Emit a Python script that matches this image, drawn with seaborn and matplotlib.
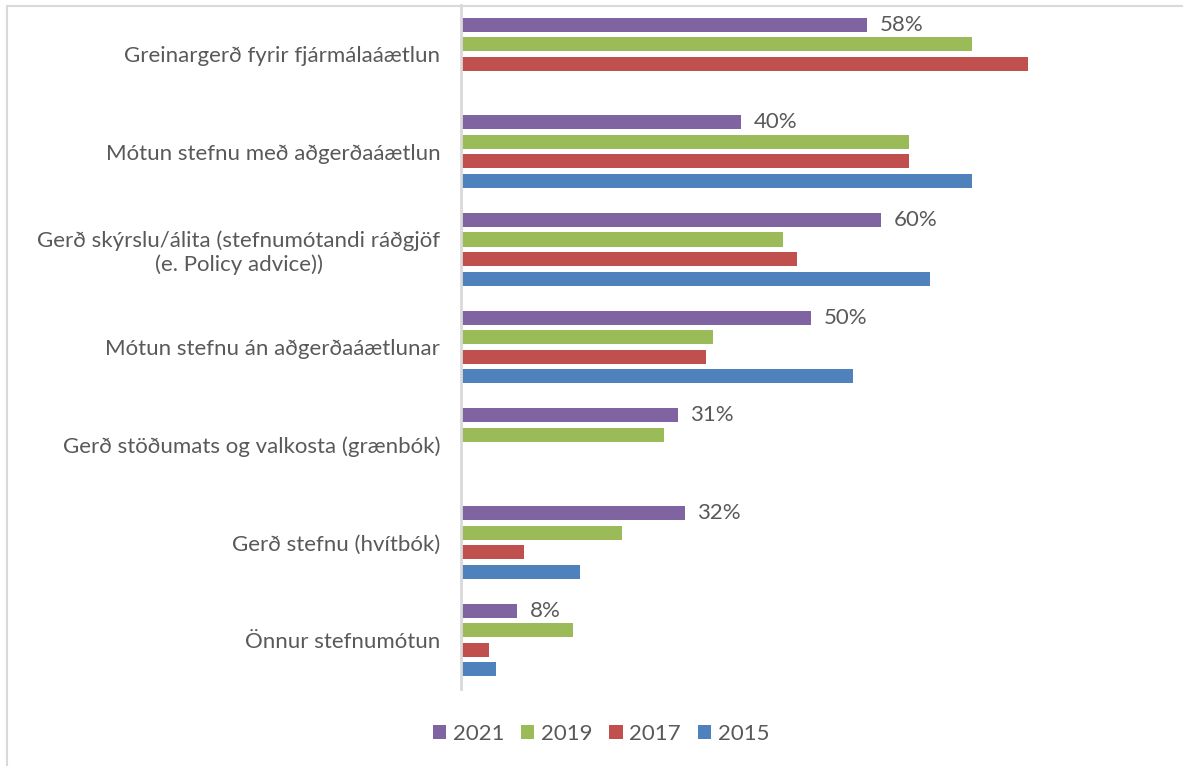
import pandas as pd
import numpy as np
import matplotlib.pyplot as plt
import seaborn as sns
from matplotlib.lines import Line2D
from matplotlib.patches import Patch

# ── data ─────────────────────────────────────────────
categories = [
    'Greinargerð fyrir fjármálaáætlun',
    'Mótun stefnu með aðgerðaáætlun',
    'Gerð skýrslu/álita (stefnumótandi ráðgjöf\n(e. Policy advice))',
    'Mótun stefnu án aðgerðaáætlunar',
    'Gerð stöðumats og valkosta (grænbók)',
    'Gerð stefnu (hvítbók)',
    'Önnur stefnumótun',
]
years = ['2021', '2019', '2017', '2015']
v2021 = [58, 40, 60, 50, 31, 32, 8]
v2019 = [73, 64, 46, 36, 29, 23, 16]
v2017 = [81, 64, 48, 35, np.nan, 9, 4]
v2015 = [np.nan, 73, 67, 56, np.nan, 17, 5]
colors = ['#8064A2', '#9BBB59', '#C0504D', '#4F81BD']

df = pd.DataFrame({'flokkur': categories, '2021': v2021, '2019': v2019,
                   '2017': v2017, '2015': v2015})
long = df.melt(id_vars='flokkur', var_name='ar', value_name='hlutfall')

# ── plot ─────────────────────────────────────────────
sns.set_style('white')
plt.rcParams['font.family'] = ['Lato', 'DejaVu Sans']
txt = '#595959'
fs = 16

fig = plt.figure(figsize=(11.83, 7.66), dpi=100)
ax = fig.add_axes([461 / 1183, 1 - 689 / 766, 630 / 1183, 684 / 766])

sns.barplot(data=long, y='flokkur', x='hlutfall', hue='ar',
            hue_order=years, palette=colors, order=categories,
            orient='h', width=0.8, gap=0.28, ax=ax, legend=False,
            saturation=1, linewidth=0)

ax.set_xlim(0, 90)
ax.set_xlabel('')
ax.set_ylabel('')
ax.set_xticks([])
for s in ['top', 'right', 'bottom']:
    ax.spines[s].set_visible(False)
ax.spines['left'].set_color('#d9d9d9')
ax.spines['left'].set_linewidth(2)
ax.tick_params(axis='y', length=0, pad=15, labelsize=fs, labelcolor=txt)
for lab in ax.get_yticklabels():
    lab.set_multialignment('center')

# labels only for 2021
cont = ax.containers[0]
ax.bar_label(cont, labels=[f'{v:.0f}%' for v in v2021], padding=9,
             fontsize=fs, color=txt)

# legend
handles = [Patch(facecolor=c, edgecolor='none') for c in colors]
fig.legend(handles, years, loc='center', bbox_to_anchor=(0.508, 0.042),
           ncol=4, frameon=False, fontsize=fs, labelcolor=txt,
           handlelength=0.6, handleheight=0.6, handletextpad=0.3,
           columnspacing=0.75)

# chart frame (left + top edges)
fig.add_artist(Line2D([7 / 1183, 7 / 1183], [0, 1 - 6 / 766],
                      color='#d9d9d9', lw=1.5, transform=fig.transFigure))
fig.add_artist(Line2D([7 / 1183, 1], [1 - 6 / 766, 1 - 6 / 766],
                      color='#d9d9d9', lw=1.5, transform=fig.transFigure))

plt.savefig('out.png', dpi=100)
